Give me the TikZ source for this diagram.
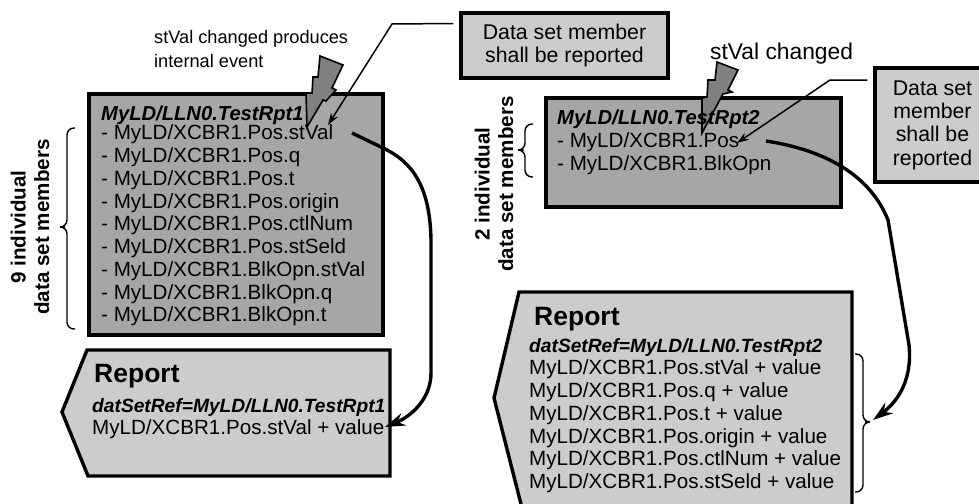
\documentclass[tikz,border=0pt]{standalone}
\usepackage{fontspec}
\setmainfont{Liberation Sans}
\usetikzlibrary{arrows.meta,calc}
\definecolor{darkfill}{gray}{0.65}
\definecolor{lightfill}{gray}{0.80}
\definecolor{boltfill}{gray}{0.5}
\tikzset{
  panel/.style={draw=black,line width=3.4pt,fill=darkfill,line join=miter},
  reportshape/.style={draw=black,line width=3.4pt,fill=lightfill,line join=miter},
  callout/.style={draw=black,line width=3.4pt,fill=lightfill,align=center,font=\fontsize{21.3}{23.3}\selectfont,inner sep=0pt},
  body/.style={anchor=north west,align=left,inner sep=0pt,font=\fontsize{20.6}{22.75}\selectfont},
  plain/.style={inner sep=0pt,align=left},
  rotlabel/.style={inner sep=0pt,align=center,rotate=90,font=\bfseries\fontsize{20.6}{23.5}\selectfont},
  reporttitle/.style={inner sep=0pt,anchor=base west,font=\bfseries\fontsize{26.5}{30}\selectfont},
  bolt/.style={draw=black,line width=1.6pt,fill=boltfill,line join=miter},
  thin arrow/.style={draw=black,line width=1.5pt,-{Stealth[length=12pt,width=8pt]}},
  thick arrow/.style={draw=black,line width=3.4pt,-{Stealth[length=20pt,width=13pt]}},
  curly/.style={draw=black,line width=1.4pt,rounded corners=7pt},
}
\newcommand{\titlefont}{\fontsize{20.2}{22.75}\selectfont\bfseries\itshape}
\newcommand{\refsfont}{\fontsize{19.2}{22.75}\selectfont\bfseries\itshape}
\begin{document}
\begin{tikzpicture}[x=1pt,y=-1pt]
\useasboundingbox (0,0) rectangle (979,503);
% left panel
\path[panel] (89,94) rectangle (383,335);
% right panel
\path[panel] (546,98) rectangle (841,207);
% bolts
\path[bolt] (320,56) -- (343,65) -- (332,88) -- (336,90) -- (326,101) -- (323,100) -- (307,127) -- (306,93) -- (312,93) -- (313,77) -- (318,77) -- cycle;
\path[bolt] (717,62) -- (738,70) -- (728,90) -- (732,92) -- (723,94) -- (702,133) -- (702,98) -- (707,97) -- (708,80) -- (715,80) -- cycle;
\node[body] (leftlist) at (101,106) {{\titlefont MyLD/LLN0.TestRpt1}\\[-3.7pt]- MyLD/XCBR1.Pos.stVal\\- MyLD/XCBR1.Pos.q\\- MyLD/XCBR1.Pos.t\\- MyLD/XCBR1.Pos.origin\\- MyLD/XCBR1.Pos.ctlNum\\- MyLD/XCBR1.Pos.stSeld\\- MyLD/XCBR1.BlkOpn.stVal\\- MyLD/XCBR1.BlkOpn.q\\- MyLD/XCBR1.BlkOpn.t};
\node[body] (rightlist) at (557,110) {{\titlefont MyLD/LLN0.TestRpt2}\\- MyLD/XCBR1.Pos\\- MyLD/XCBR1.BlkOpn};
% left report
\path[reportshape] (87,350) -- (390,350) -- (390,476) -- (88,476) -- (62,412) -- cycle;
\node[reporttitle] (rep1title) at (94,382) {Report};
\node[body] (rep1body) at (92,398) {{\refsfont datSetRef=MyLD/LLN0.TestRpt1}\\[-0.7pt]MyLD/XCBR1.Pos.stVal + value};
% right report
\path[reportshape] (519,292) -- (852,292) -- (852,512) -- (523,512) -- (494,398) -- cycle;
\node[reporttitle] (rep2title) at (534,325) {Report};
\node[body] (rep2body) at (529,338) {{\refsfont datSetRef=MyLD/LLN0.TestRpt2}\\MyLD/XCBR1.Pos.stVal + value\\MyLD/XCBR1.Pos.q + value\\MyLD/XCBR1.Pos.t + value\\MyLD/XCBR1.Pos.origin + value\\MyLD/XCBR1.Pos.ctlNum + value\\MyLD/XCBR1.Pos.stSeld + value};
% callouts
\node[callout,minimum width=207pt,minimum height=65pt] (call1) at (564.5,45.5) {Data set member\\shall be reported};
\node[callout,minimum width=115pt,minimum height=114pt] (call2) at (932.5,125) {Data set\\member\\shall be\\reported};
% plain labels
\node[plain,anchor=north west,font=\fontsize{18.2}{24}\selectfont] (ev1) at (154,30) {stVal changed produces\\internal event};
\node[plain,anchor=north west,font=\fontsize{22.8}{25}\selectfont] (ev2) at (710,43) {stVal changed};
\node[rotlabel] (lab1) at (30,227) {9 individual\\data set members};
\node[rotlabel] (lab2) at (494,184) {2 individual\\data set members};
% connectors
\coordinate (c1tip) at (328,125);
\coordinate (c2tip) at (737,143);
\coordinate (c1bend) at (392,24);
\coordinate (c2bend) at (830,80);
\path[thin arrow] ($(call1.west)+(-6,-22)$) -- (c1bend) -- (c1tip);
\path[thin arrow] ($(call2.west)+(-6,-45)$) -- (c2bend) -- (c2tip);
\coordinate (s1) at (352,133);
\coordinate (e1) at (385,427);
\coordinate (s2) at (766,141);
\coordinate (e2) at (873,420);
\path[thick arrow] (s1) -- (383,148) .. controls (415,163) and (430,190) .. (431,240) -- (431,373) .. controls (431,398) and (412,416) .. (e1);
\path[thick arrow] (s2) .. controls (825,150) and (870,175) .. (888,220) -- (909,345) .. controls (913,385) and (893,405) .. (e2);
% braces
\path[curly] (75,128) -- (67,128) -- (67,227) -- (58,227) -- (67,227) -- (67,329) -- (75,329);
\path[curly] (533,124) -- (525,124) -- (525,150) -- (517,150) -- (525,150) -- (525,177) -- (533,177);
\path[curly] (855,354) -- (863,354) -- (863,422) -- (872,422) -- (863,422) -- (863,492) -- (855,492);
\end{tikzpicture}
\end{document}
